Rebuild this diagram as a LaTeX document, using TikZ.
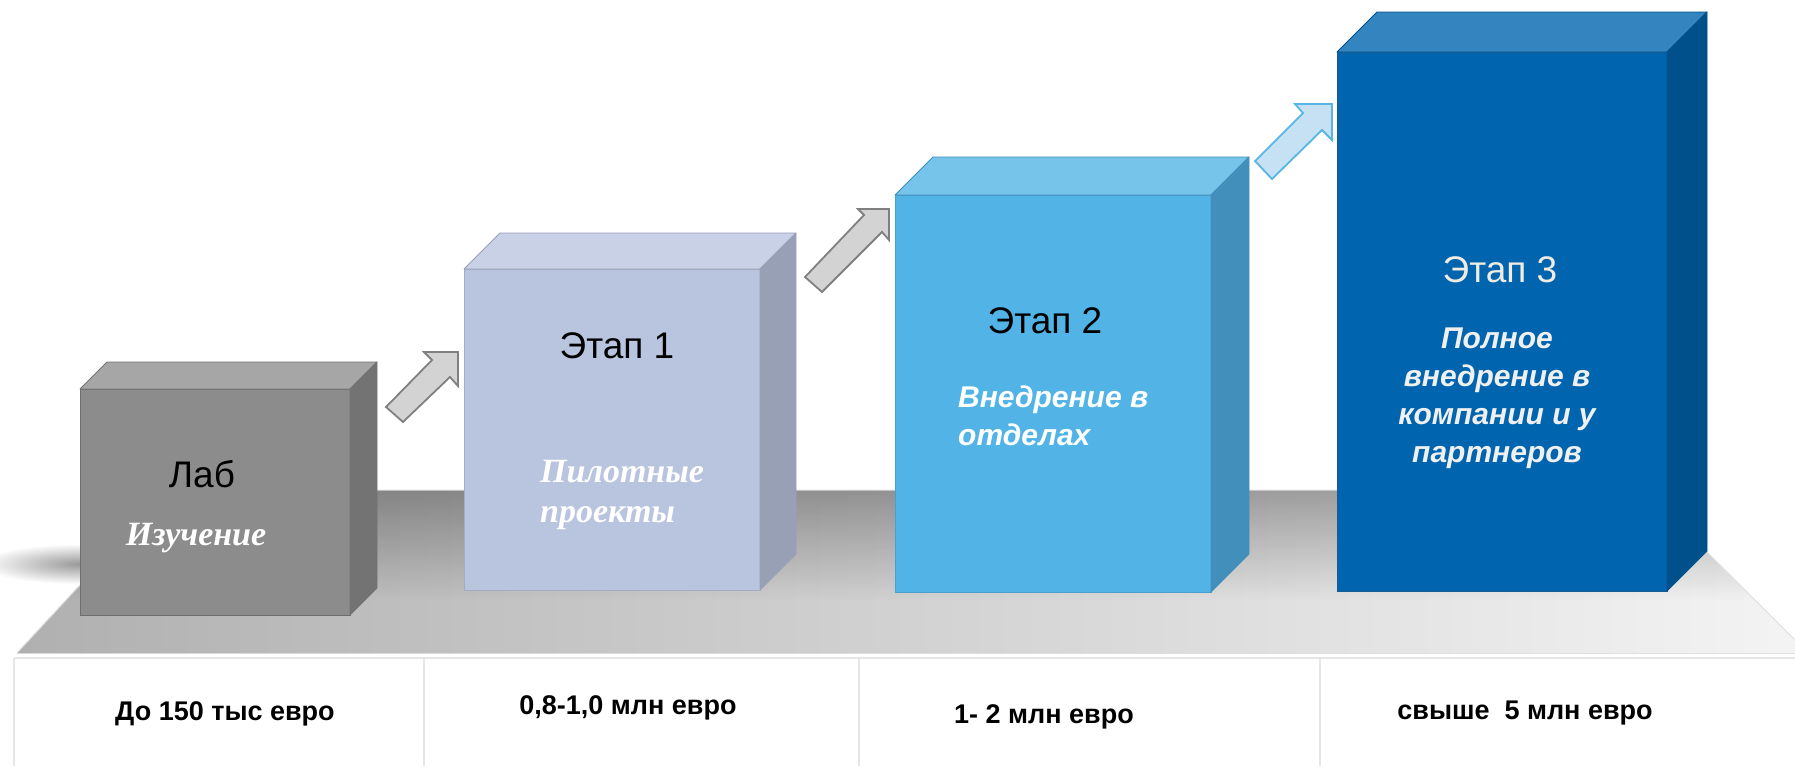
\documentclass[tikz,border=0pt]{standalone}
\usepackage{fontspec}
\newfontfamily\sansf{Liberation Sans}
\newfontfamily\seriff{Liberation Serif}
\usetikzlibrary{fadings,calc}
\definecolor{labF}{HTML}{8C8C8C}\definecolor{labT}{HTML}{A6A6A6}\definecolor{labS}{HTML}{737373}\definecolor{labE}{HTML}{6E6E6E}
\definecolor{sOneF}{HTML}{B9C5DF}\definecolor{sOneT}{HTML}{C8D1E5}\definecolor{sOneS}{HTML}{97A0B4}\definecolor{sOneE}{HTML}{A3ACC0}
\definecolor{sTwoF}{HTML}{52B4E6}\definecolor{sTwoT}{HTML}{77C4EB}\definecolor{sTwoS}{HTML}{418FBA}\definecolor{sTwoE}{HTML}{4A9FCB}
\definecolor{sThrF}{HTML}{0064AF}\definecolor{sThrT}{HTML}{3384BF}\definecolor{sThrS}{HTML}{00508C}\definecolor{sThrE}{HTML}{1A5C90}
\definecolor{arrG}{HTML}{D3D3D3}\definecolor{arrGE}{HTML}{808080}
\definecolor{arrB}{HTML}{C6E0F4}\definecolor{arrBE}{HTML}{56B6E6}
\definecolor{floorL}{HTML}{B0B0B0}\definecolor{floorR}{HTML}{F4F4F4}
\definecolor{gridc}{HTML}{E6E6E6}\definecolor{offw}{HTML}{F0ECE2}
\tikzfading[name=fadedown, top color=transparent!0, bottom color=transparent!100]
\tikzfading[name=blobfade, inner color=transparent!0, outer color=transparent!100]
\newcommand\cubefaces[4]{% name, depth, top colour, side colour
  \filldraw[fill=#3, draw=#4, line width=0.8pt, line join=round]
    (#1.north west) -- ++(#2,-#2) -- ($(#1.north east)+(#2,-#2)$) -- (#1.north east) -- cycle;
  \filldraw[fill=#4, draw=#4, line width=0.8pt, line join=round]
    (#1.north east) -- ++(#2,-#2) -- ($(#1.south east)+(#2,-#2)$) -- (#1.south east) -- cycle;}
\begin{document}
\begin{tikzpicture}[x=1pt,y=-1pt,
  frontface/.style={draw=#1, line width=0.8pt, inner sep=0pt, outer sep=0pt},
  title/.style={font=\sansf\fontsize{37}{40}\selectfont, inner sep=0pt, anchor=base},
  sanssub/.style={font=\sansf\bfseries\itshape\fontsize{30}{38}\selectfont, text=white, inner sep=0pt},
  serifsub/.style={font=\seriff\bfseries\itshape\fontsize{34}{40}\selectfont, text=white, inner sep=0pt},
  price/.style={font=\sansf\bfseries\fontsize{27}{30}\selectfont, inner sep=0pt, anchor=base},
  grayarrow/.style={fill=arrG, draw=arrGE, line width=1.8pt, line join=miter},
  bluearrow/.style={fill=arrB, draw=arrBE, line width=1.8pt, line join=miter},
  gridline/.style={draw=gridc, line width=1.2pt}]
\useasboundingbox (0,0) rectangle (1795,766);
% floor
\fill[left color=floorL, right color=floorR] (17,653) -- (168,490) -- (1645,490) -- (1808,653) -- cycle;
\begin{scope}
  \clip (17,653) -- (168,490) -- (1645,490) -- (1808,653) -- cycle;
  \fill[black, opacity=0.3, path fading=fadedown] (0,490) rectangle (1795,600);
\end{scope}
\draw[white!88!black, line width=1pt] (17,653) -- (168,490) -- (1645,490) -- (1808,653);
\fill[black, opacity=0.4, path fading=blobfade] (80,564) ellipse [x radius=100, y radius=20];
% boxes
\node[frontface=labE, fill=labF, minimum width=270, minimum height=226] (lab) at (215,502) {};
\cubefaces{lab}{27}{labT}{labS}
\node[frontface=sOneE, fill=sOneF, minimum width=296, minimum height=321] (st1) at (612,429.5) {};
\cubefaces{st1}{36}{sOneT}{sOneS}
\node[frontface=sTwoE, fill=sTwoF, minimum width=316, minimum height=397] (st2) at (1053,393.5) {};
\cubefaces{st2}{38}{sTwoT}{sTwoS}
\node[frontface=sThrE, fill=sThrF, minimum width=330, minimum height=539] (st3) at (1502,321.5) {};
\cubefaces{st3}{40}{sThrT}{sThrS}
% texts in boxes (multi-line nodes: base anchor = last line)
\node[title] (labT) at (202,487) {Лаб};
\node[serifsub, anchor=base] (labS) at (196,545) {Изучение};
\node[title] (st1T) at (617,358) {Этап 1};
\node[serifsub, anchor=base west, align=left] (st1S) at (540,522) {Пилотные\\проекты};
\node[title] (st2T) at (1045,333) {Этап 2};
\node[sanssub, anchor=base west, align=left] (st2S) at (958,445) {Внедрение в\\отделах};
\node[title, text=offw] (st3T) at (1500,282) {Этап 3};
\node[sanssub, text=white!94!black, anchor=base, align=center] (st3S) at (1497,462) {Полное\\внедрение в\\компании и у\\партнеров};
% block arrows
\coordinate (t1) at (458,352);
\coordinate (t2) at (889,209);
\coordinate (t3) at (1332,104);
\draw[grayarrow, shift={(t1)}] (0,0) -- (0,34) -- (-8,25) -- (-55,70) -- (-72,55) -- (-26,8) -- (-34,0) -- cycle;
\draw[grayarrow, shift={(t2)}] (0,0) -- (0,31) -- (-7,23) -- (-67,83) -- (-84,68) -- (-25,6) -- (-31,0) -- cycle;
\draw[bluearrow, shift={(t3)}] (0,0) -- (0,36) -- (-10,26) -- (-60,75) -- (-77,57) -- (-29,9) -- (-37,0) -- cycle;
% table
\coordinate (gL) at (14,658);
\coordinate (gR) at (1795,658);
\draw[gridline] (gL) -- (gR);
\draw[gridline] (14,658) -- (14,766);
\draw[gridline] (424,658) -- (424,766);
\draw[gridline] (859,658) -- (859,766);
\draw[gridline] (1320,658) -- (1320,766);
\node[price] (p0) at (225,720) {До 150 тыс евро};
\node[price] (p1) at (628,714) {0,8-1,0 млн евро};
\node[price] (p2) at (1044,723) {1- 2 млн евро};
\node[price] (p3) at (1525,719) {свыше\ \ 5 млн евро};
\end{tikzpicture}
\end{document}
